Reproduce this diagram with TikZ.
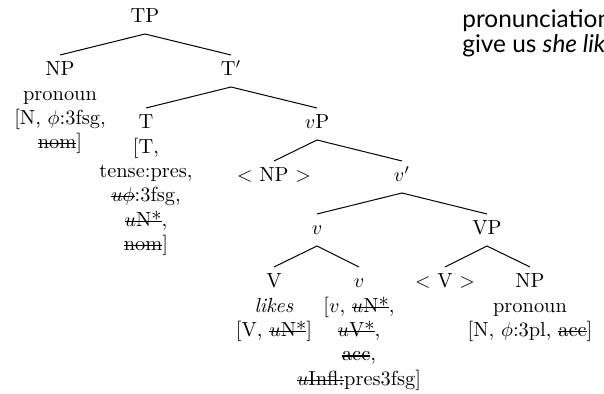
\documentclass[tikz,border=0pt]{standalone}
\usepackage{fontspec}
\newfontfamily\gillfont{Lato}
\newcommand{\strk}[1]{\sbox0{#1}\rlap{\rule[0.5ex]{\wd0}{0.6pt}}\usebox0}
\newcommand{\lines}[1]{\begin{tabular}[t]{@{}c@{}}#1\end{tabular}}
\tikzset{
  treefont/.style={font=\fontsize{10.2}{12.15}\selectfont},
  cat/.style={treefont, anchor=base, inner sep=0pt, outer sep=0pt, text height=10.5pt, text depth=5.5pt},
  feat/.style={treefont, anchor=base, inner sep=0pt, outer sep=0pt},
  branch/.style={line width=0.5pt},
  sidetext/.style={font=\gillfont\fontsize{12.2}{13}\selectfont, anchor=base west, inner sep=0pt, text=black}
}
\begin{document}
\begin{tikzpicture}[x=0.5pt,y=-0.5pt]
\useasboundingbox (0,0) rectangle (604,394);
\clip (0,0) rectangle (604,394);
% categories
\node[cat] (tp) at (145,23) {TP};
\node[cat] (npl) at (60,76) {NP};
\node[cat] (tbar) at (231,76) {T$'$};
\node[cat] (t) at (146,129) {T};
\node[cat] (vp) at (317,129) {$v$P};
\node[cat] (npt) at (274,182) {$<$ NP $>$};
\node[cat] (vbar) at (402,182) {$v'$};
\node[cat] (vm) at (317,235) {$v$};
\node[cat] (bigvp) at (487,235) {VP};
\node[cat] (verb) at (274,288) {V};
\node[cat] (vl) at (359,288) {$v$};
\node[cat] (vt) at (445,288) {$<$ V $>$};
\node[cat] (npr) at (530,288) {NP};
% features
\node[feat] (nplf) at (60,100.3) {\lines{pronoun\\ {[N}, $\phi$:3fsg,\\ \strk{nom}]}};
\node[feat] (tf) at (146,153.3) {\lines{[T,\\ tense:pres,\\ \strk{$u\phi$}:3fsg,\\ \strk{$u$N*},\\ \strk{nom}]}};
\node[feat] (verbf) at (274,312.3) {\lines{\textit{likes}\\ {[V}, \strk{$u$N*}]}};
\node[feat] (vlf) at (359,312.3) {\lines{[$v$, \strk{$u$N*},\\ \strk{$u$V*},\\ \strk{acc},\\ \strk{$u$Infl:}pres3fsg]}};
\node[feat] (nprf) at (530,312.3) {\lines{pronoun\\ {[N}, $\phi$:3pl, \strk{acc}]}};
% branches
\draw[branch] (npl.north) -- (tp.south) -- (tbar.north);
\draw[branch] (t.north) -- (tbar.south) -- (vp.north);
\draw[branch] (npt.north) -- (vp.south) -- (vbar.north);
\draw[branch] (vm.north) -- (vbar.south) -- (bigvp.north);
\draw[branch] (verb.north) -- (vm.south) -- (vl.north);
\draw[branch] (vt.north) -- (bigvp.south) -- (npr.north);
% side text
\node[sidetext] (s1) at (462,27.5) {pronunciation};
\node[sidetext] (s2) at (462,52.8) {give us \textit{she likes}};
\end{tikzpicture}
\end{document}
